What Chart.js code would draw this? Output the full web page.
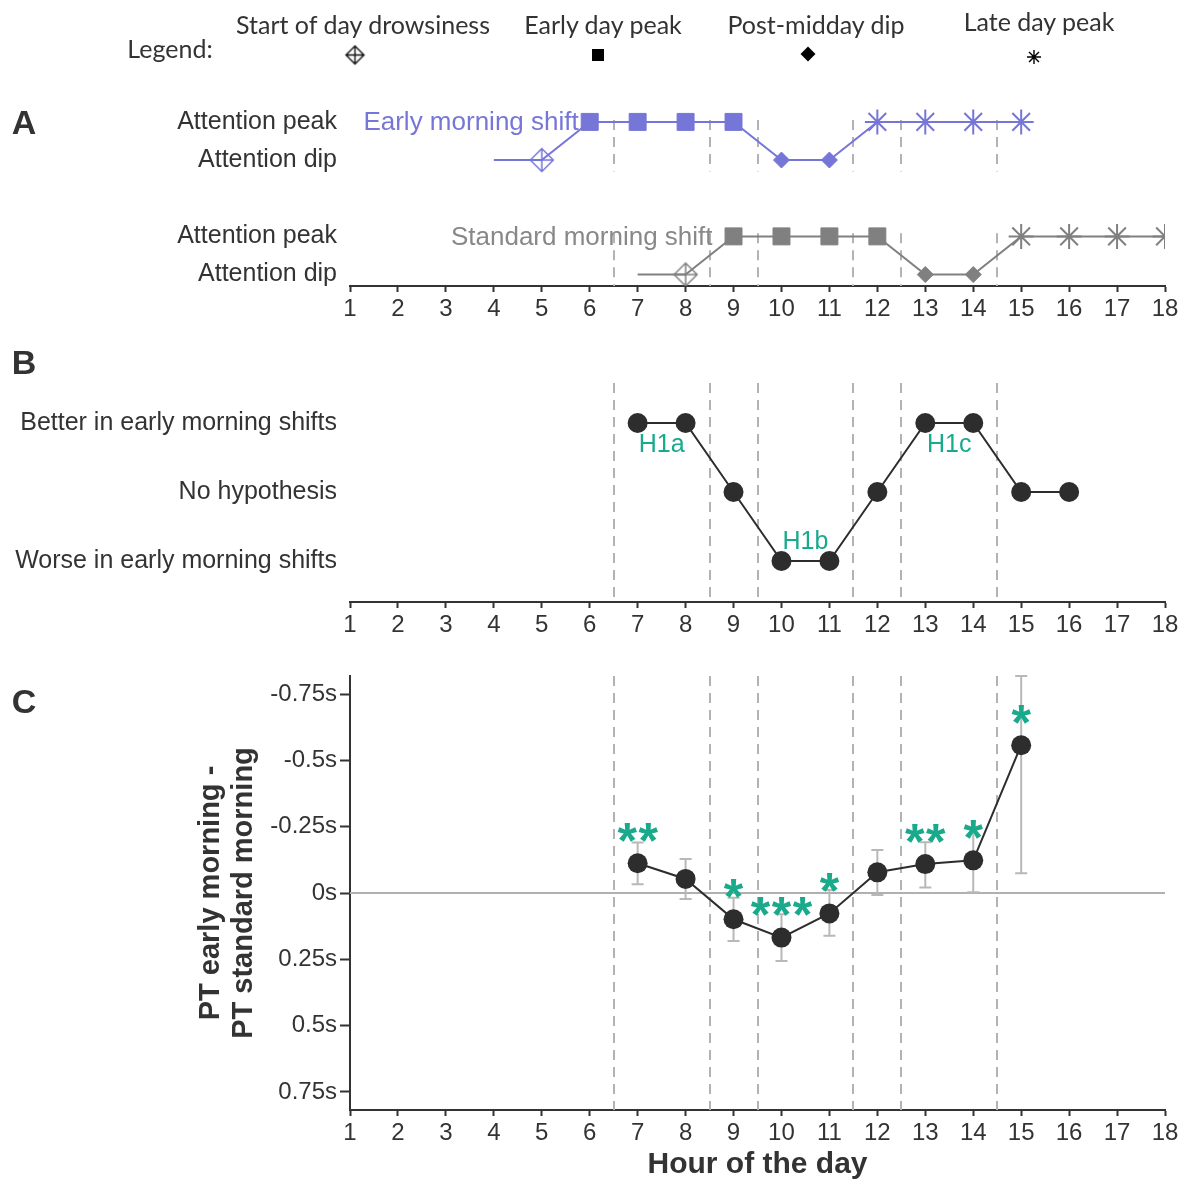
<!DOCTYPE html>
<html>
<head>
<meta charset="utf-8">
<script src="https://cdn.jsdelivr.net/npm/chart.js@4.4.1/dist/chart.umd.min.js"></script>
<style>
html,body{margin:0;padding:0;background:#fff;}
#wrap{position:relative;width:1184px;height:1183px;overflow:hidden;background:#fff;}
canvas.layer{position:absolute;left:0;top:0;}
.t{position:absolute;white-space:nowrap;color:#333;transform:translate(-50%,-50%);line-height:1;}
.leg{font-family:Lato,'Open Sans',sans-serif;font-size:25px;color:#333;}
.pl{font-family:'Liberation Sans',Arial,sans-serif;font-weight:bold;font-size:34px;color:#333;}
</style>
</head>
<body>
<div id="wrap">
  <canvas id="cA" class="layer" width="1184" height="1183"></canvas>
  <canvas id="cB" class="layer" width="1184" height="1183"></canvas>
  <canvas id="cC" class="layer" width="1184" height="1183"></canvas>
  <div class="t leg" style="left:170px;top:48px;">Legend:</div>
  <div class="t leg" style="left:363px;top:24px;">Start of day drowsiness</div>
  <div class="t leg" style="left:603px;top:24px;">Early day peak</div>
  <div class="t leg" style="left:816px;top:24px;">Post-midday dip</div>
  <div class="t leg" style="left:1039px;top:21px;">Late day peak</div>
  <div class="t pl" style="left:24px;top:122px;">A</div>
  <div class="t pl" style="left:24px;top:362px;">B</div>
  <div class="t pl" style="left:24px;top:701px;">C</div>
</div>
<script>
// ---------------- DATA ----------------
const xTicks = [1,2,3,4,5,6,7,8,9,10,11,12,13,14,15,16,17,18];
const boundaries = [6.5, 8.5, 9.5, 11.5, 12.5, 14.5];

// Panel A
const shiftNames = ['Early morning shift', 'Standard morning shift'];
const earlyHours  = [4,5,6,7,8,9,10,11,12,13,14,15];
const earlyState  = ['dip','dip','peak','peak','peak','peak','dip','dip','peak','peak','peak','peak'];
const earlyMarker = ['none','drowsy','early','early','early','early','dip','dip','late','late','late','late'];
const standardHours  = [7,8,9,10,11,12,13,14,15,16,17,18];
const standardState  = ['dip','dip','peak','peak','peak','peak','dip','dip','peak','peak','peak','peak'];
const standardMarker = ['none','drowsy','early','early','early','early','dip','dip','late','late','late','late'];
const aTickValues = [0, 1, 3, 4];
const aTickLabels = ['Attention dip', 'Attention peak', 'Attention dip', 'Attention peak'];
const legendNames = ['Start of day drowsiness', 'Early day peak', 'Post-midday dip', 'Late day peak'];

// Panel B
const hypHours = [7,8,9,10,11,12,13,14,15,16];
const hypLevel = ['better','better','none','worse','worse','none','better','better','none','none'];
const hypCategories = ['worse','none','better'];
const hypTickLabels = ['Worse in early morning shifts','No hypothesis','Better in early morning shifts'];
const hypNoteText  = ['H1a','H1b','H1c'];
const hypNoteHour  = [7.5, 10.5, 13.5];
const hypNoteLevel = ['better','worse','better'];

// Panel C
const diffHours = [7,8,9,10,11,12,13,14,15];
const diffMean  = [-0.112,-0.053, 0.099, 0.168, 0.077,-0.078,-0.109,-0.123,-0.557];
const diffLow   = [-0.190,-0.128, 0.018, 0.080,-0.011,-0.162,-0.191,-0.250,-0.818];
const diffHigh  = [-0.033, 0.023, 0.181, 0.256, 0.161, 0.008,-0.021,-0.003,-0.074];
const diffSig   = ['**','','*','***','*','','**','*','*'];
const cTickValues = [-0.75,-0.5,-0.25,0,0.25,0.5,0.75];
const cTickLabels = ['-0.75s','-0.5s','-0.25s','0s','0.25s','0.5s','0.75s'];
const cYTitle = ['PT early morning -','PT standard morning'];
const cXTitle = 'Hour of the day';

// ---------------- STYLE ----------------
const FONT = "'Liberation Sans', Arial, sans-serif";
Chart.defaults.font.family = FONT;
const TXT = '#333333';
const AXIS = '#333333';
const PURPLE = '#7676d8';
const GREY = '#808080';
const DARK = '#2d2d2d';
const TEAL = '#19a98b';
const DASH = '#b3b3b3';
const ERR = '#b8b8b8';

function crossedDiamond(color, half, lw) {
  const s = Math.ceil(half * 2 + lw * 2 + 2);
  const c = document.createElement('canvas');
  c.width = s; c.height = s;
  const g = c.getContext('2d');
  const m = s / 2;
  g.strokeStyle = color; g.lineWidth = lw;
  g.beginPath();
  g.moveTo(m - half, m); g.lineTo(m, m - half); g.lineTo(m + half, m); g.lineTo(m, m + half); g.closePath();
  g.moveTo(m - half, m); g.lineTo(m + half, m);
  g.moveTo(m, m - half); g.lineTo(m, m + half);
  g.stroke();
  return c;
}
const drowsyImg = { purple: crossedDiamond(PURPLE, 11.5, 1.5), grey: crossedDiamond(GREY, 11.5, 1.5), black: crossedDiamond('#111', 9, 1.4) };

function markerOpts(kind, colorKey) {
  switch (kind) {
    case 'drowsy': return { style: drowsyImg[colorKey], r: 11, bw: 1 };
    case 'early':  return { style: 'rect', r: 12, bw: 1 };
    case 'dip':    return { style: 'rectRot', r: 8, bw: 1 };
    case 'late':   return { style: 'star', r: 12.5, bw: 2 };
    default:       return { style: 'circle', r: 0, bw: 0 };
  }
}

function xScaleOpts(height) {
  return {
    type: 'linear', min: 1, max: 18,
    afterBuildTicks: s => { s.ticks = xTicks.map(v => ({ value: v })); },
    ticks: { color: TXT, font: { size: 24 }, padding: 3, maxRotation: 0, autoSkip: false, callback: v => String(v) },
    grid: { drawOnChartArea: false, drawTicks: true, tickLength: 6, tickColor: AXIS, tickWidth: 2 },
    border: { display: true, color: AXIS, width: 2 },
    afterFit: s => { s.height = height; }
  };
}

const dashPlugin = {
  id: 'dashes',
  beforeDatasetsDraw(chart, args, opts) {
    const { ctx, chartArea } = chart;
    const xs = chart.scales.x, ys = chart.scales.y;
    ctx.save();
    ctx.strokeStyle = DASH; ctx.lineWidth = 2; ctx.setLineDash([10, 7]);
    const ranges = opts.ranges || [[null, null]];
    boundaries.forEach(b => {
      const px = Math.round(xs.getPixelForValue(b));
      ranges.forEach(r => {
        const y1 = r[0] === null ? chartArea.top : ys.getPixelForValue(r[1]);
        const y2 = r[1] === null ? chartArea.bottom : ys.getPixelForValue(r[0]);
        ctx.beginPath(); ctx.moveTo(px, y1); ctx.lineTo(px, y2); ctx.stroke();
      });
    });
    ctx.restore();
  }
};

// ---------------- CHART A ----------------
const levelA = { early: { dip: 3, peak: 4 }, standard: { dip: 0, peak: 1 } };
function shiftDataset(hours, states, markers, key, color, colorKey) {
  return {
    data: hours.map((h, i) => ({ x: h, y: levelA[key][states[i]] })),
    borderColor: color, borderWidth: 2, tension: 0,
    pointStyle: c => markerOpts(markers[c.dataIndex], colorKey).style,
    pointRadius: c => markerOpts(markers[c.dataIndex], colorKey).r,
    pointBorderWidth: c => markerOpts(markers[c.dataIndex], colorKey).bw,
    pointBackgroundColor: color, pointBorderColor: color,
    pointHoverRadius: 0
  };
}

const shiftLabelPlugin = {
  id: 'shiftLabels',
  afterDatasetsDraw(chart) {
    const { ctx } = chart;
    const xs = chart.scales.x, ys = chart.scales.y;
    ctx.save();
    ctx.font = '26px ' + FONT;
    ctx.textAlign = 'right'; ctx.textBaseline = 'middle';
    ctx.fillStyle = PURPLE;
    ctx.fillText(shiftNames[0], xs.getPixelForValue(earlyHours[2]) - 11, ys.getPixelForValue(levelA.early.peak) + 1);
    ctx.fillStyle = '#888888';
    ctx.fillText(shiftNames[1], xs.getPixelForValue(standardHours[2]) - 21, ys.getPixelForValue(levelA.standard.peak) + 1);
    ctx.restore();

    // legend symbols
    ctx.save();
    ctx.fillStyle = '#000'; ctx.strokeStyle = '#000';
    const img = drowsyImg.black;
    ctx.drawImage(img, 355 - img.width / 2, 55 - img.height / 2);
    ctx.fillRect(598 - 6, 55 - 6, 12, 12);
    ctx.beginPath(); ctx.moveTo(808 - 7.5, 54); ctx.lineTo(808, 54 - 7.5); ctx.lineTo(808 + 7.5, 54); ctx.lineTo(808, 54 + 7.5); ctx.closePath(); ctx.fill();
    ctx.lineWidth = 1.4;
    ctx.beginPath();
    for (let k = 0; k < 4; k++) {
      const a = k * Math.PI / 4;
      ctx.moveTo(1034 - 7 * Math.cos(a), 57 - 7 * Math.sin(a));
      ctx.lineTo(1034 + 7 * Math.cos(a), 57 + 7 * Math.sin(a));
    }
    ctx.stroke();
    ctx.restore();
  }
};

new Chart(document.getElementById('cA'), {
  type: 'line',
  data: { datasets: [
    shiftDataset(earlyHours, earlyState, earlyMarker, 'early', PURPLE, 'purple'),
    shiftDataset(standardHours, standardState, standardMarker, 'standard', GREY, 'grey')
  ]},
  options: {
    responsive: false, animation: false, events: [],
    plugins: { legend: { display: false }, tooltip: { enabled: false }, dashes: { ranges: [[2.7, 4.05], [-0.3, 1.08]] } },
    layout: { padding: { left: 0, right: 19, top: 99, bottom: 1183 - 286 - 40 } },
    scales: {
      x: xScaleOpts(40),
      y: {
        type: 'linear', min: -0.3, max: 4.6,
        afterBuildTicks: s => { s.ticks = aTickValues.map(v => ({ value: v })); },
        ticks: { color: TXT, font: { size: 25 }, padding: 3, autoSkip: false, callback: v => aTickLabels[aTickValues.indexOf(v)] },
        grid: { drawOnChartArea: false, drawTicks: true, tickLength: 10, tickColor: 'rgba(0,0,0,0)' },
        border: { display: false },
        afterFit: s => { s.width = 350; }
      }
    }
  },
  plugins: [dashPlugin, shiftLabelPlugin]
});

// ---------------- CHART B ----------------
const hypNotePlugin = {
  id: 'hypNotes',
  afterDatasetsDraw(chart) {
    const { ctx } = chart;
    const xs = chart.scales.x, ys = chart.scales.y;
    ctx.save();
    ctx.font = '25px ' + FONT; ctx.fillStyle = TEAL;
    ctx.textAlign = 'center'; ctx.textBaseline = 'middle';
    hypNoteText.forEach((t, i) => {
      const lvl = hypCategories.indexOf(hypNoteLevel[i]);
      const dy = hypNoteLevel[i] === 'better' ? 22 : -19;
      ctx.fillText(t, xs.getPixelForValue(hypNoteHour[i]), ys.getPixelForValue(lvl) + dy);
    });
    ctx.restore();
  }
};

new Chart(document.getElementById('cB'), {
  type: 'line',
  data: { datasets: [{
    data: hypHours.map((h, i) => ({ x: h, y: hypCategories.indexOf(hypLevel[i]) })),
    borderColor: DARK, borderWidth: 2, tension: 0,
    pointStyle: 'circle', pointRadius: 10, pointBorderWidth: 0,
    pointBackgroundColor: DARK, pointBorderColor: DARK, pointHoverRadius: 0
  }]},
  options: {
    responsive: false, animation: false, events: [],
    plugins: { legend: { display: false }, tooltip: { enabled: false } },
    layout: { padding: { left: 0, right: 19, top: 383, bottom: 1183 - 602 - 40 } },
    scales: {
      x: xScaleOpts(40),
      y: {
        type: 'linear', min: -0.594, max: 2.58,
        afterBuildTicks: s => { s.ticks = [0, 1, 2].map(v => ({ value: v })); },
        ticks: { color: TXT, font: { size: 25 }, padding: 3, autoSkip: false, callback: v => hypTickLabels[v] },
        grid: { drawOnChartArea: false, drawTicks: true, tickLength: 10, tickColor: 'rgba(0,0,0,0)' },
        border: { display: false },
        afterFit: s => { s.width = 350; }
      }
    }
  },
  plugins: [dashPlugin, hypNotePlugin]
});

// ---------------- CHART C ----------------
const errPlugin = {
  id: 'errs',
  beforeDatasetsDraw(chart) {
    const { ctx, chartArea } = chart;
    const xs = chart.scales.x, ys = chart.scales.y;
    ctx.save();
    // zero line
    ctx.strokeStyle = '#b0b0b0'; ctx.lineWidth = 2;
    const y0 = ys.getPixelForValue(0);
    ctx.beginPath(); ctx.moveTo(chartArea.left, y0); ctx.lineTo(chartArea.right, y0); ctx.stroke();
    // error bars
    ctx.strokeStyle = ERR; ctx.lineWidth = 2;
    diffHours.forEach((h, i) => {
      const px = xs.getPixelForValue(h);
      const a = ys.getPixelForValue(diffLow[i]), b = ys.getPixelForValue(diffHigh[i]);
      ctx.beginPath();
      ctx.moveTo(px, a); ctx.lineTo(px, b);
      ctx.moveTo(px - 6, a); ctx.lineTo(px + 6, a);
      ctx.moveTo(px - 6, b); ctx.lineTo(px + 6, b);
      ctx.stroke();
    });
    ctx.restore();
  },
  afterDatasetsDraw(chart) {
    const { ctx } = chart;
    const xs = chart.scales.x, ys = chart.scales.y;
    ctx.save();
    ctx.font = 'bold 50px ' + FONT; ctx.fillStyle = TEAL;
    ctx.textAlign = 'center'; ctx.textBaseline = 'alphabetic';
    const m = ctx.measureText('*');
    const off = (m.actualBoundingBoxAscent - m.actualBoundingBoxDescent) / 2;
    const step = 21;
    diffHours.forEach((h, i) => {
      const s = diffSig[i];
      if (!s) return;
      const cx = xs.getPixelForValue(h);
      const cy = ys.getPixelForValue(diffMean[i]) - 31;
      for (let k = 0; k < s.length; k++) {
        ctx.fillText('*', cx + (k - (s.length - 1) / 2) * step, cy + off);
      }
    });
    ctx.restore();
  }
};

new Chart(document.getElementById('cC'), {
  type: 'line',
  data: { datasets: [{
    data: diffHours.map((h, i) => ({ x: h, y: diffMean[i] })),
    borderColor: DARK, borderWidth: 2, tension: 0,
    pointStyle: 'circle', pointRadius: 10, pointBorderWidth: 0,
    pointBackgroundColor: DARK, pointBorderColor: DARK, pointHoverRadius: 0
  }]},
  options: {
    responsive: false, animation: false, events: [],
    plugins: { legend: { display: false }, tooltip: { enabled: false } },
    layout: { padding: { left: 190, right: 19, top: 676, bottom: 0 } },
    scales: {
      x: Object.assign(xScaleOpts(73), {
        title: { display: true, text: cXTitle, color: TXT, font: { size: 30, weight: 'bold' }, padding: { top: 0, bottom: 0 } }
      }),
      y: {
        type: 'linear', min: -0.818, max: 0.818, reverse: true,
        afterBuildTicks: s => { s.ticks = cTickValues.map(v => ({ value: v })); },
        ticks: { color: TXT, font: { size: 24 }, padding: 3, autoSkip: false, callback: v => cTickLabels[cTickValues.indexOf(v)] },
        grid: { drawOnChartArea: false, drawTicks: true, tickLength: 10, tickColor: AXIS, tickWidth: 2 },
        border: { display: true, color: AXIS, width: 2 },
        title: { display: true, text: cYTitle, color: TXT, font: { size: 29, weight: 'bold', lineHeight: 1.12 }, padding: { top: 5, bottom: 0 } },
        afterFit: s => { s.width = 160; }
      }
    }
  },
  plugins: [dashPlugin, errPlugin]
});
</script>
</body>
</html>
